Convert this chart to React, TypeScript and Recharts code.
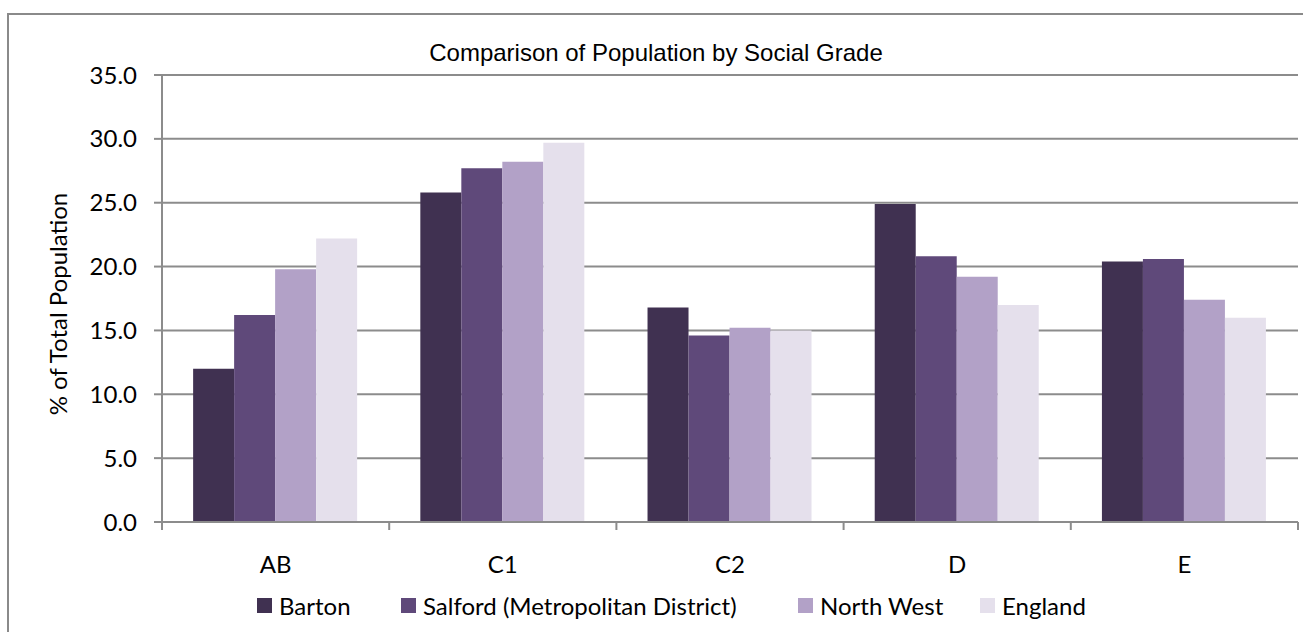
import React from "react";
import { Bar, BarChart, CartesianGrid, Legend, XAxis, YAxis } from "recharts";

const categories = ["AB", "C1", "C2", "D", "E"];
const barton = [12.0, 25.8, 16.8, 24.9, 20.4];
const salford = [16.2, 27.7, 14.6, 20.8, 20.6];
const northWest = [19.8, 28.2, 15.2, 19.2, 17.4];
const england = [22.2, 29.7, 15.0, 17.0, 16.0];
const yTicks = [0, 5, 10, 15, 20, 25, 30, 35];

const seriesNames = ["Barton", "Salford (Metropolitan District)", "North West", "England"];
const seriesColors = ["#403151", "#5f497a", "#b2a1c7", "#e5e0ec"];

const data = categories.map((name, i) => ({
  name,
  [seriesNames[0]]: barton[i],
  [seriesNames[1]]: salford[i],
  [seriesNames[2]]: northWest[i],
  [seriesNames[3]]: england[i],
}));

const W = 1303;
const H = 632;
const PLOT_LEFT = 162;
const PLOT_RIGHT = 1298;
const AXIS_GRAY = "#8c8c8c";
const FONT = "Lato, 'Open Sans', sans-serif";
const FONT_SIZE = 24;

// legend item widths, roughly where Excel placed them
const legendWidths = [144, 397, 182, 120];

const CategoryTick = (props: any) => {
  const { x, y, payload, index } = props;
  const bw = (PLOT_RIGHT - PLOT_LEFT) / categories.length;
  return (
    <g>
      <line x1={x - bw / 2} x2={x - bw / 2} y1={y} y2={y + 8} stroke={AXIS_GRAY} strokeWidth={2} />
      {index === categories.length - 1 && (
        <line x1={x + bw / 2} x2={x + bw / 2} y1={y} y2={y + 8} stroke={AXIS_GRAY} strokeWidth={2} />
      )}
      <text x={x} y={y + 51} textAnchor="middle" fill="#000" fontSize={FONT_SIZE} fontFamily={FONT}>
        {payload.value}
      </text>
    </g>
  );
};

const LegendContent = () => (
  <div style={{ display: "flex", alignItems: "center", height: 30, paddingLeft: 257, fontFamily: FONT, fontSize: FONT_SIZE, color: "#000" }}>
    {seriesNames.map((n, i) => (
      <div key={n} style={{ display: "flex", alignItems: "center", width: legendWidths[i], whiteSpace: "nowrap" }}>
        <span style={{ width: 15, height: 15, background: seriesColors[i], marginRight: 7, display: "inline-block" }} />
        <span>{n}</span>
      </div>
    ))}
  </div>
);

export default function App() {
  return (
    <div style={{ position: "absolute", left: 0, top: 0, width: W, height: H, overflow: "hidden", background: "#fff" }}>
      <div
        style={{
          position: "absolute",
          left: 7,
          top: 13,
          width: W + 50,
          height: H + 50,
          border: "2px solid #8a8a8a",
        }}
      />
      <div
        style={{
          position: "absolute",
          left: 256,
          top: 41,
          width: 800,
          textAlign: "center",
          fontFamily: "'Liberation Sans', Arial, sans-serif",
          fontSize: 24,
          lineHeight: "24px",
          color: "#000",
          zIndex: 2,
        }}
      >
        Comparison of Population by Social Grade
      </div>
      <div
        style={{
          position: "absolute",
          left: 57,
          top: 304,
          transform: "translate(-50%, -50%) rotate(-90deg)",
          fontFamily: FONT,
          fontSize: FONT_SIZE,
          whiteSpace: "nowrap",
          color: "#000",
          zIndex: 2,
        }}
      >
        % of Total Population
      </div>
      <BarChart
        width={W}
        height={H}
        data={data}
        margin={{ top: 75, right: W - PLOT_RIGHT, left: PLOT_LEFT - 60, bottom: 50 }}
        barCategoryGap="13.7%"
        barGap={0}
        style={{ fontFamily: FONT }}
      >
        <CartesianGrid vertical={false} stroke={AXIS_GRAY} strokeWidth={2} />
        <XAxis
          dataKey="name"
          height={30}
          interval={0}
          tickSize={0}
          tickMargin={0}
          tickLine={false}
          axisLine={{ stroke: AXIS_GRAY, strokeWidth: 2 }}
          tick={<CategoryTick />}
        />
        <YAxis
          width={60}
          domain={[0, 35]}
          ticks={yTicks}
          interval={0}
          tickFormatter={(v: number) => v.toFixed(1)}
          tickSize={8}
          tickMargin={17}
          axisLine={{ stroke: AXIS_GRAY, strokeWidth: 2 }}
          tickLine={{ stroke: AXIS_GRAY, strokeWidth: 2 }}
          tick={{ fill: "#000", fontSize: FONT_SIZE, fontFamily: FONT }}
        />
        <Legend
          verticalAlign="bottom"
          content={<LegendContent />}
          wrapperStyle={{ left: 0, width: W, bottom: 12, height: 30 }}
        />
        {seriesNames.map((n, i) => (
          <Bar key={n} dataKey={n} fill={seriesColors[i]} isAnimationActive={false} />
        ))}
      </BarChart>
    </div>
  );
}
